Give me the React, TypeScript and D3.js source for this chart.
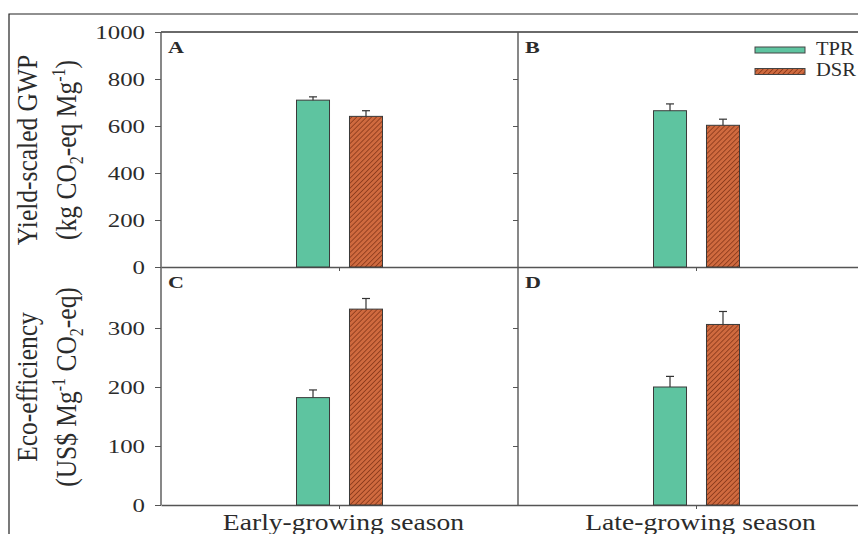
import React, { useEffect, useRef } from 'react';
import * as d3 from 'd3';

const seasons = ['Early-growing season', 'Late-growing season'];
const treatments = ['TPR', 'DSR'];
const gwpTPR = [710, 665];
const gwpTPRse = [14, 29];
const gwpDSR = [641, 603];
const gwpDSRse = [24, 26];
const ecoTPR = [182, 200];
const ecoTPRse = [13, 18];
const ecoDSR = [332, 306];
const ecoDSRse = [18, 22];
const gwpTicks = [0, 200, 400, 600, 800, 1000];
const ecoTicks = [0, 100, 200, 300];
const panelLetters = [['A', 'B'], ['C', 'D']];

const FONT = "'Liberation Serif', 'Times New Roman', serif";
const TEXT = '#2b2b2b';
const AXIS = '#555';

export default function App() {
  const ref = useRef<SVGSVGElement>(null);

  useEffect(() => {
    document.body.style.margin = '0';
    const svg = d3.select(ref.current);
    svg.selectAll('*').remove();

    const left = 161, right = 875;
    const x = d3.scaleBand().domain(seasons).range([left, right]);
    const xi = d3.scaleBand().domain(treatments).range([-43, 43]).paddingInner(0.377);
    const yTop = d3.scaleLinear().domain([0, 1000]).range([267, 32]);
    const yBot = d3.scaleLinear().domain([0, 400]).range([505, 269]);

    const defs = svg.append('defs');
    const pat = defs.append('pattern')
      .attr('id', 'hatch')
      .attr('patternUnits', 'userSpaceOnUse')
      .attr('width', 3.5)
      .attr('height', 3.5)
      .attr('patternTransform', 'rotate(45)');
    pat.append('rect').attr('width', 3.5).attr('height', 3.5).attr('fill', '#cf6a3f');
    pat.append('line')
      .attr('x1', 0).attr('y1', 0).attr('x2', 0).attr('y2', 3.5)
      .attr('stroke', '#7d3014').attr('stroke-width', 1.4);

    // outer frame
    svg.append('path')
      .attr('d', 'M9,534 L9,14 L858,14')
      .attr('fill', 'none')
      .attr('stroke', '#222')
      .attr('stroke-width', 1.2);

    const fills: Record<string, string> = { TPR: '#5ec4a0', DSR: 'url(#hatch)' };

    const rows = [
      { y: yTop, ticks: gwpTicks, tpr: gwpTPR, tprSe: gwpTPRse, dsr: gwpDSR, dsrSe: gwpDSRse },
      { y: yBot, ticks: ecoTicks, tpr: ecoTPR, tprSe: ecoTPRse, dsr: ecoDSR, dsrSe: ecoDSRse },
    ];

    rows.forEach((row, ri) => {
      const g = svg.append('g');

      // left axis with labels
      const ax = g.append('g')
        .attr('transform', `translate(${left},0)`)
        .call(d3.axisLeft(row.y).tickValues(row.ticks).tickSize(6).tickSizeOuter(0).tickFormat(d3.format('d')));
      ax.select('.domain').remove();
      ax.selectAll('line').attr('stroke', AXIS);
      ax.selectAll('text')
        .attr('x', 0)
        .attr('dy', '0.35em')
        .attr('transform', 'translate(-16,0) scale(1.38,1)')
        .style('font-family', FONT)
        .style('font-size', '18px')
        .attr('fill', TEXT);

      // divider axis (ticks only)
      const ax2 = g.append('g')
        .attr('transform', `translate(${x(seasons[1])},0)`)
        .call(d3.axisLeft(row.y).tickValues(row.ticks).tickSize(5).tickSizeOuter(0).tickFormat(() => ''));
      ax2.select('.domain').remove();
      ax2.selectAll('line').attr('stroke', AXIS);

      // bottom axis
      const ax3 = g.append('g')
        .attr('transform', `translate(0,${row.y(0)})`)
        .call(d3.axisBottom(x).tickSize(4).tickSizeOuter(0).tickFormat(() => ''));
      ax3.select('.domain').attr('stroke', AXIS).attr('stroke-width', 1.3);
      ax3.selectAll('line').attr('stroke', AXIS);

      seasons.forEach((s, si) => {
        const cx = (x(s) as number) + x.bandwidth() / 2;
        const vals = [
          { t: 'TPR', v: row.tpr[si], e: row.tprSe[si] },
          { t: 'DSR', v: row.dsr[si], e: row.dsrSe[si] },
        ];
        const bars = g.append('g').attr('transform', `translate(${cx},0)`);
        bars.selectAll('rect')
          .data(vals)
          .enter()
          .append('rect')
          .attr('x', d => xi(d.t) as number)
          .attr('width', xi.bandwidth())
          .attr('y', d => row.y(d.v))
          .attr('height', d => row.y(0) - row.y(d.v))
          .attr('fill', d => fills[d.t])
          .attr('stroke', '#3a3a3a')
          .attr('stroke-width', 1);
        const err = bars.selectAll('g.err')
          .data(vals)
          .enter()
          .append('g')
          .attr('class', 'err')
          .attr('stroke', '#333')
          .attr('stroke-width', 1.2);
        err.append('line')
          .attr('x1', d => (xi(d.t) as number) + xi.bandwidth() / 2)
          .attr('x2', d => (xi(d.t) as number) + xi.bandwidth() / 2)
          .attr('y1', d => row.y(d.v))
          .attr('y2', d => row.y(d.v + d.e));
        err.append('line')
          .attr('x1', d => (xi(d.t) as number) + xi.bandwidth() / 2 - 4)
          .attr('x2', d => (xi(d.t) as number) + xi.bandwidth() / 2 + 4)
          .attr('y1', d => row.y(d.v + d.e))
          .attr('y2', d => row.y(d.v + d.e));

        // panel letter
        g.append('text')
          .attr('transform', `translate(${(x(s) as number) + 7},${ri === 0 ? 53 : 288}) scale(1.3,1)`)
          .style('font-family', FONT)
          .style('font-size', '17px')
          .style('font-weight', 'bold')
          .attr('fill', TEXT)
          .text(panelLetters[ri][si]);
      });
    });

    // top border and divider
    svg.append('line')
      .attr('x1', left).attr('x2', 858).attr('y1', 32).attr('y2', 32)
      .attr('stroke', '#6a6a6a').attr('stroke-width', 2);
    svg.append('line')
      .attr('x1', left).attr('x2', left).attr('y1', 32).attr('y2', yBot(0))
      .attr('stroke', AXIS).attr('stroke-width', 1.4);
    svg.append('line')
      .attr('x1', x(seasons[1]) as number).attr('x2', x(seasons[1]) as number)
      .attr('y1', 32).attr('y2', yBot(0))
      .attr('stroke', AXIS).attr('stroke-width', 1.4);

    // x labels
    svg.append('g')
      .selectAll('text')
      .data(seasons)
      .enter()
      .append('text')
      .attr('transform', (d: string) => `translate(${(x(d) as number) + x.bandwidth() / 2 + 4},530) scale(1.2,1)`)
      .attr('text-anchor', 'middle')
      .style('font-family', FONT)
      .style('font-size', '23px')
      .attr('fill', TEXT)
      .text((d: string) => d);

    // y titles
    const title = (bx: number, cy: number, parts: [string, string][]) => {
      const t = svg.append('text')
        .attr('transform', `translate(${bx},${cy}) scale(1.18,1) rotate(-90)`)
        .attr('text-anchor', 'middle')
        .style('font-family', FONT)
        .style('font-size', '25.5px')
        .attr('fill', TEXT);
      parts.forEach(([str, kind]) => {
        const sp = t.append('tspan').text(str);
        if (kind === 'sup') sp.attr('dy', -9).style('font-size', '16px');
        if (kind === 'sub') sp.attr('dy', 6).style('font-size', '16px');
        if (kind === 'upSup') sp.attr('dy', 9);
        if (kind === 'upSub') sp.attr('dy', -6);
      });
    };
    title(37, 150, [['Yield-scaled GWP', '']]);
    title(76, 150, [['(kg CO', ''], ['2', 'sub'], ['-eq Mg', 'upSub'], ['-1', 'sup'], [')', 'upSup']]);
    title(37, 387, [['Eco-efficiency', '']]);
    title(76, 387, [['(US$ Mg', ''], ['-1', 'sup'], [' CO', 'upSup'], ['2', 'sub'], ['-eq)', 'upSub']]);

    // legend
    const lg = svg.append('g');
    treatments.forEach((t, i) => {
      lg.append('rect')
        .attr('x', 755).attr('y', 47 + i * 21.5)
        .attr('width', 50).attr('height', 6)
        .attr('fill', fills[t])
        .attr('stroke', '#444').attr('stroke-width', 1);
      lg.append('text')
        .attr('transform', `translate(816,${55 + i * 21}) scale(1.08,1)`)
        .style('font-family', FONT)
        .style('font-size', '19px')
        .attr('fill', TEXT)
        .text(t);
    });
  }, []);

  return <svg ref={ref} width={858} height={534} style={{ display: 'block', background: '#fff' }} />;
}
